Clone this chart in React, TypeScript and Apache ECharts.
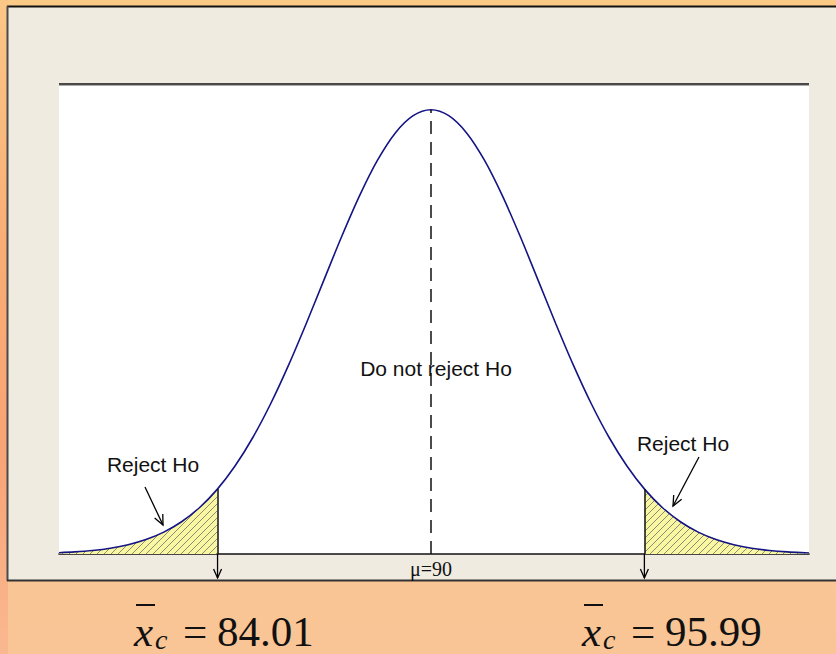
import React, { useEffect, useRef } from "react";
import * as echarts from "echarts";

// ---- data ----
const xValues = [
  79.56, 80, 80.5, 81, 81.5, 82, 82.5, 83, 83.5, 84, 84.5, 85, 85.5, 86, 86.5, 87, 87.5, 88, 88.5, 89, 89.5,
  90,
  90.5, 91, 91.5, 92, 92.5, 93, 93.5, 94, 94.5, 95, 95.5, 96, 96.5, 97, 97.5, 98, 98.5, 99, 99.5, 100, 100.5, 100.61,
];
const density = [
  0.0029, 0.0047, 0.008, 0.0131, 0.0209, 0.0325, 0.0492, 0.0726, 0.1041, 0.1455, 0.198, 0.2622, 0.3382, 0.4246,
  0.519, 0.6177, 0.7157, 0.8072, 0.8865, 0.9479, 0.9867,
  1.0,
  0.9867, 0.9479, 0.8865, 0.8072, 0.7157, 0.6177, 0.519, 0.4246, 0.3382, 0.2622, 0.198, 0.1455, 0.1041, 0.0726,
  0.0492, 0.0325, 0.0209, 0.0131, 0.008, 0.0047, 0.0027, 0.0024,
];
const mu = 90;
const muPeak = 1.0;
const critLow = 84.01;
const critHigh = 95.99;
const critDensity = 0.1464;
const rejectLabel = "Reject Ho";
const keepLabel = "Do not reject Ho";
const muLabel = "μ=90";
const critLowLabel = "84.01";
const critHighLabel = "95.99";

const SANS = '"Liberation Sans", Arial, sans-serif';
const SERIF = '"Liberation Serif", "Times New Roman", serif';

function arrow(x1: number, y1: number, x2: number, y2: number, head = 10, spread = 4.5) {
  const dx = x2 - x1, dy = y2 - y1;
  const L = Math.hypot(dx, dy);
  const ux = dx / L, uy = dy / L;
  const bx = x2 - ux * head, by = y2 - uy * head;
  const qx = -uy * spread, qy = ux * spread;
  return [
    { type: "line", z: 20, shape: { x1, y1, x2, y2 }, style: { stroke: "#000", lineWidth: 1.3 } },
    {
      type: "polyline", z: 20,
      shape: { points: [[bx + qx, by + qy], [x2, y2], [bx - qx, by - qy]] },
      style: { stroke: "#000", lineWidth: 1.3, fill: null },
    },
  ];
}

function txt(text: string, x: number, y: number, font: string, align = "center", lineHeight?: number) {
  const style: any = {
    text, x, y, font, fill: "#111",
    align, textAlign: align, verticalAlign: "middle", textVerticalAlign: "middle",
  };
  if (lineHeight) style.lineHeight = lineHeight;
  return { type: "text", z: 25, style };
}

function formula(x0: number, value: string) {
  return [
    { type: "rect", z: 25, shape: { x: x0 + 1, y: 604, width: 19, height: 2 }, style: { fill: "#111" } },
    txt("x", x0 - 1, 631, `italic 43px ${SERIF}`, "left", 30),
    txt("c", x0 + 20, 639, `italic 28px ${SERIF}`, "left", 18),
    txt("=", x0 + 48, 631, `43px ${SERIF}`, "left", 30),
    txt(value, x0 + 82, 631, `43px ${SERIF}`, "left", 30),
  ];
}

export default function App() {
  const ref = useRef<HTMLDivElement>(null);
  useEffect(() => {
    if (!ref.current) return;
    const chart = echarts.init(ref.current, null, { renderer: "svg" });

    const cv = document.createElement("canvas");
    cv.width = 7;
    cv.height = 7;
    const ctx = cv.getContext("2d")!;
    ctx.fillStyle = "#FAF7A3";
    ctx.fillRect(0, 0, 7, 7);
    ctx.strokeStyle = "#8C8C74";
    ctx.lineWidth = 1;
    ctx.beginPath();
    ctx.moveTo(-1, 8);
    ctx.lineTo(8, -1);
    ctx.stroke();

    const pairs = xValues.map((x, i) => [x, density[i]]);
    const leftTail = [...pairs.filter((p) => p[0] < critLow), [critLow, critDensity]];
    const rightTail = [[critHigh, critDensity], ...pairs.filter((p) => p[0] > critHigh)];
    const hatch = { image: cv, repeat: "repeat" };

    chart.setOption({
      animation: false,
      backgroundColor: new echarts.graphic.LinearGradient(0, 0, 0, 1, [
        { offset: 0, color: "#FCCA87" },
        { offset: 1, color: "#F9C596" },
      ]),
      grid: { left: 59, right: 27, top: 84, bottom: 100, containLabel: false },
      xAxis: {
        type: "value", min: 79.56, max: 100.61,
        axisLine: { show: true, onZero: false, lineStyle: { color: "#111", width: 1.6 } },
        axisTick: { show: false }, axisLabel: { show: false }, splitLine: { show: false },
      },
      yAxis: { type: "value", min: 0, max: 1.058, show: false, splitLine: { show: false } },
      series: [
        {
          type: "line", data: leftTail, symbol: "none", z: 2, silent: true,
          lineStyle: { width: 0 }, areaStyle: { color: hatch, opacity: 1 },
        },
        {
          type: "line", data: rightTail, symbol: "none", z: 2, silent: true,
          lineStyle: { width: 0 }, areaStyle: { color: hatch, opacity: 1 },
        },
        {
          type: "line", data: pairs, symbol: "none", smooth: 0.3, z: 4, silent: true,
          lineStyle: { color: "#141485", width: 1.6 },
          markLine: {
            silent: true, symbol: ["none", "none"], label: { show: false },
            lineStyle: { color: "#111", width: 1.5, type: "solid" },
            data: [
              [{ coord: [mu, 0], lineStyle: { type: [13, 8], color: "#111", width: 1.5 } }, { coord: [mu, muPeak] }],
              [{ coord: [critLow, 0] }, { coord: [critLow, critDensity] }],
              [{ coord: [critHigh, 0] }, { coord: [critHigh, critDensity] }],
            ],
          },
        },
      ],
    });

    const px = (x: number, y: number) => chart.convertToPixel({ gridIndex: 0 }, [x, y]) as number[];
    const pMu = px(mu, 0);
    const pLo = px(critLow, 0);
    const pHi = px(critHigh, 0);

    chart.setOption({
      graphic: [
        {
          type: "rect", z: -5, shape: { x: 0, y: 0, width: 8, height: 654 },
          style: {
            fill: new echarts.graphic.LinearGradient(0, 0, 0, 1, [
              { offset: 0, color: "#FBC787" },
              { offset: 0.4, color: "#F9AC74" },
              { offset: 0.7, color: "#F8A476" },
              { offset: 1, color: "#FAB890" },
            ]),
          },
        },
        { type: "rect", z: -4, shape: { x: 7, y: 6, width: 840, height: 574 }, style: { fill: "#EFEBE1" } },
        { type: "line", z: -3, shape: { x1: 7, y1: 6.5, x2: 836, y2: 6.5 }, style: { stroke: "#111", lineWidth: 2 } },
        { type: "line", z: -3, shape: { x1: 7.5, y1: 6, x2: 7.5, y2: 581 }, style: { stroke: "#4A4A4A", lineWidth: 2 } },
        { type: "line", z: -3, shape: { x1: 7, y1: 580.5, x2: 836, y2: 580.5 }, style: { stroke: "#333", lineWidth: 2 } },
        { type: "rect", z: -2, shape: { x: 59, y: 84, width: 750, height: 470 }, style: { fill: "#FFFFFF" } },
        { type: "line", z: 10, shape: { x1: 59, y1: 84, x2: 809, y2: 84 }, style: { stroke: "#111", lineWidth: 1.6 } },
        { type: "line", z: 10, shape: { x1: 59, y1: 85.5, x2: 809, y2: 85.5 }, style: { stroke: "#AAA", lineWidth: 1 } },
        ...arrow(pLo[0], pLo[1], pLo[0], 578, 9, 4),
        ...arrow(pHi[0], pHi[1], pHi[0], 578, 9, 4),
        txt(muLabel, pMu[0], 569, `20px ${SERIF}`),
        txt(rejectLabel, 153, 464, `21px ${SANS}`),
        txt(rejectLabel, 683, 443, `21px ${SANS}`),
        txt(keepLabel, 436, 368, `21px ${SANS}`),
        ...arrow(145, 487, 163, 525),
        ...arrow(699, 457, 673, 506),
        ...formula(135, critLowLabel),
        ...formula(583, critHighLabel),
      ],
    });

    return () => chart.dispose();
  }, []);
  return <div ref={ref} style={{ position: "fixed", left: 0, top: 0, width: 836, height: 654 }} />;
}
